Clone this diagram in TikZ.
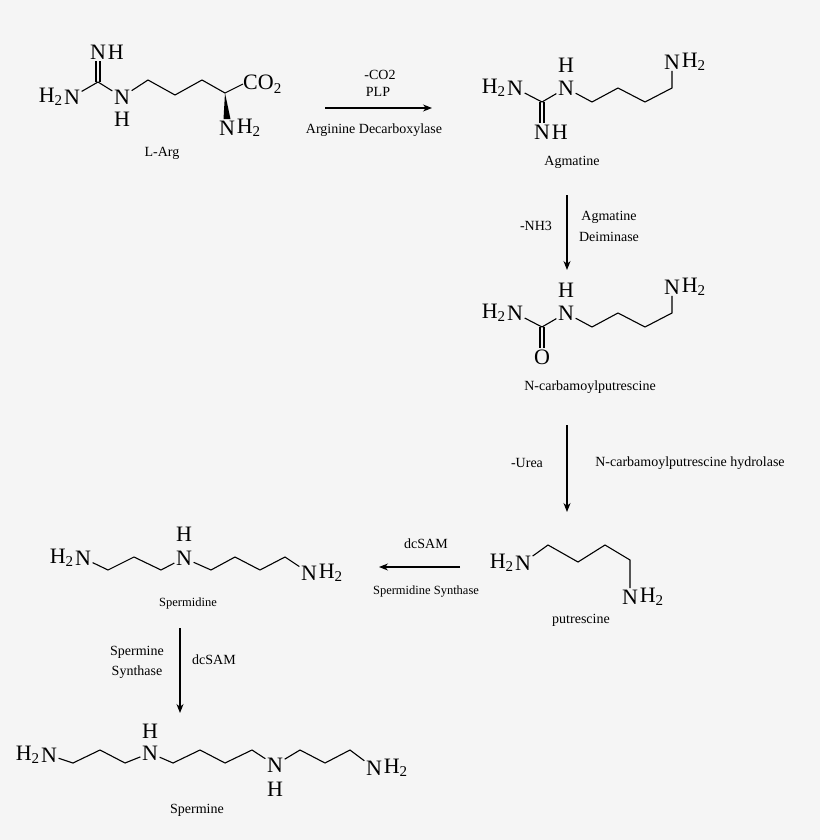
\documentclass[tikz,border=0pt]{standalone}
\usepackage{fontspec}
\setmainfont{Liberation Serif}
\usetikzlibrary{arrows.meta}
\newcommand{\lsb}[1]{\raisebox{-0.35ex}{\fontsize{15}{15}\selectfont #1}}
\begin{document}
\begin{tikzpicture}[x=1pt,y=-1pt,
  atom/.style={font=\fontsize{22}{22}\selectfont, inner sep=1.5pt},
  hl/.style={font=\fontsize{22}{22}\selectfont, inner sep=0pt},
  lbl/.style={font=\fontsize{14}{14}\selectfont, inner sep=1pt},
  bond/.style={line width=1.1pt, line join=miter},
  rxn/.style={line width=1.1pt, -{Stealth[length=9pt,width=7pt]}}]
\fill[black!4] (0,0) rectangle (820,840);
\useasboundingbox (0,0) rectangle (820,840);
% ---------- L-Arg
\node[atom] (a1) at (72,97) {N};
\node[hl,anchor=east] (a1h) at (a1.west) {H\lsb{2}};
\coordinate (ac) at (98,82);
\node[atom] (a2) at (98,52) {N};
\node[hl,anchor=west] (a2h) at (a2.east) {H};
\node[atom] (a3) at (122,97) {N};
\node[hl] (a3h) at (122,119) {H};
\coordinate (av1) at (148,80);
\coordinate (av2) at (175,95);
\coordinate (av3) at (202,80);
\coordinate (aca) at (225,93);
\node[hl,anchor=west] (aco) at (243,84) {CO\lsb{2}};
\node[atom] (a4) at (227,128) {N};
\node[hl,anchor=west] (a4h) at (a4.east) {H\lsb{2}};
\draw[bond] (a1) -- (ac) -- (a3);
\draw[bond] ([xshift=-2pt]ac) -- ([xshift=-2pt]a2.south);
\draw[bond] ([xshift=2pt]ac) -- ([xshift=2pt]a2.south);
\draw[bond] (a3) -- (av1) -- (av2) -- (av3) -- (aca) -- (aco.west);
\fill (aca) -- ([xshift=-3.5pt]a4.north) -- ([xshift=3.5pt]a4.north) -- cycle;
\node[lbl] (larg) at (162,153) {L-Arg};
% arrow 1
\coordinate (r1s) at (325,108);
\coordinate (r1e) at (432,108);
\draw[rxn] (r1s) -- (r1e);
\node[lbl] at (380,75) {-CO2};
\node[lbl] at (378,92) {PLP};
\node[lbl] at (374,130) {Arginine Decarboxylase};
% ---------- Agmatine
\node[atom] (g1) at (515,88) {N};
\node[hl,anchor=east] (g1h) at (g1.west) {H\lsb{2}};
\coordinate (gc) at (542,102);
\node[atom] (g2) at (566,88) {N};
\node[hl] (g2h) at (566,65) {H};
\node[atom] (g3) at (542,132) {N};
\node[hl,anchor=west] (g3h) at (g3.east) {H};
\coordinate (gv1) at (592,102);
\coordinate (gv2) at (618,88);
\coordinate (gv3) at (645,102);
\coordinate (gv4) at (672,88);
\node[atom] (g4) at (672,62) {N};
\node[hl,anchor=west] (g4h) at (g4.east) {H\lsb{2}};
\draw[bond] (g1) -- (gc) -- (g2) -- (gv1) -- (gv2) -- (gv3) -- (gv4) -- (g4);
\draw[bond] ([xshift=-2pt]gc) -- ([xshift=-2pt]g3.north);
\draw[bond] ([xshift=2pt]gc) -- ([xshift=2pt]g3.north);
\node[lbl] at (572,162) {Agmatine};
% arrow 2
\coordinate (r2s) at (567,195);
\coordinate (r2e) at (567,270);
\draw[rxn] (r2s) -- (r2e);
\node[lbl] at (536,226) {-NH3};
\node[lbl] at (609,217) {Agmatine};
\node[lbl] at (609,237) {Deiminase};
% ---------- N-carbamoylputrescine
\node[atom] (k1) at (515,313) {N};
\node[hl,anchor=east] (k1h) at (k1.west) {H\lsb{2}};
\coordinate (kc) at (542,327);
\node[atom] (k2) at (566,313) {N};
\node[hl] (k2h) at (566,290) {H};
\node[atom] (k3) at (542,357) {O};
\coordinate (kv1) at (592,327);
\coordinate (kv2) at (618,313);
\coordinate (kv3) at (645,327);
\coordinate (kv4) at (672,313);
\node[atom] (k4) at (672,287) {N};
\node[hl,anchor=west] (k4h) at (k4.east) {H\lsb{2}};
\draw[bond] (k1) -- (kc) -- (k2) -- (kv1) -- (kv2) -- (kv3) -- (kv4) -- (k4);
\draw[bond] ([xshift=-2pt]kc) -- ([xshift=-2pt]k3.north);
\draw[bond] ([xshift=2pt]kc) -- ([xshift=2pt]k3.north);
\node[lbl] at (590,387) {N-carbamoylputrescine};
% arrow 3
\coordinate (r3s) at (567,425);
\coordinate (r3e) at (567,512);
\draw[rxn] (r3s) -- (r3e);
\node[lbl] at (527,463) {-Urea};
\node[lbl] at (690,463) {N-carbamoylputrescine hydrolase};
% ---------- putrescine
\node[atom] (p1) at (523,563) {N};
\node[hl,anchor=east] (p1h) at (p1.west) {H\lsb{2}};
\coordinate (pv1) at (548,545);
\coordinate (pv2) at (578,562);
\coordinate (pv3) at (605,545);
\coordinate (pv4) at (630,560);
\node[atom] (p2) at (630,597) {N};
\node[hl,anchor=west] (p2h) at (p2.east) {H\lsb{2}};
\draw[bond] (p1) -- (pv1) -- (pv2) -- (pv3) -- (pv4) -- (p2);
\node[lbl] at (581,620) {putrescine};
% arrow 4
\coordinate (r4s) at (460,567);
\coordinate (r4e) at (379,567);
\draw[rxn] (r4s) -- (r4e);
\node[lbl] at (426,544) {dcSAM};
\node[lbl,font=\fontsize{12.5}{12.5}\selectfont] at (426,592) {Spermidine Synthase};
% ---------- Spermidine
\node[atom] (s1) at (83,558) {N};
\node[hl,anchor=east] (s1h) at (s1.west) {H\lsb{2}};
\coordinate (sv1) at (108,570);
\coordinate (sv2) at (134,557);
\coordinate (sv3) at (161,570);
\node[atom] (s2) at (184,558) {N};
\node[hl] (s2h) at (184,534) {H};
\coordinate (sv4) at (211,570);
\coordinate (sv5) at (235,557);
\coordinate (sv6) at (260,570);
\coordinate (sv7) at (285,557);
\node[atom] (s3) at (309,573) {N};
\node[hl,anchor=west] (s3h) at (s3.east) {H\lsb{2}};
\draw[bond] (s1) -- (sv1) -- (sv2) -- (sv3) -- (s2) -- (sv4) -- (sv5) -- (sv6) -- (sv7) -- (s3);
\node[lbl,font=\fontsize{12.5}{12.5}\selectfont] at (188,603) {Spermidine};
% arrow 5
\coordinate (r5s) at (180,628);
\coordinate (r5e) at (180,713);
\draw[rxn] (r5s) -- (r5e);
\node[lbl] at (137,652) {Spermine};
\node[lbl] at (137,672) {Synthase};
\node[lbl] at (214,660) {dcSAM};
% ---------- Spermine
\node[atom] (m1) at (49,755) {N};
\node[hl,anchor=east] (m1h) at (m1.west) {H\lsb{2}};
\coordinate (mv1) at (73,763);
\coordinate (mv2) at (100,750);
\coordinate (mv3) at (125,763);
\node[atom] (m2) at (150,753) {N};
\node[hl] (m2h) at (150,731) {H};
\coordinate (mv4) at (173,763);
\coordinate (mv5) at (200,750);
\coordinate (mv6) at (225,763);
\coordinate (mv7) at (252,750);
\node[atom] (m3) at (275,765) {N};
\node[hl] (m3h) at (275,789) {H};
\coordinate (mv8) at (300,750);
\coordinate (mv9) at (325,763);
\coordinate (mv10) at (350,750);
\node[atom] (m4) at (374,768) {N};
\node[hl,anchor=west] (m4h) at (m4.east) {H\lsb{2}};
\draw[bond] (m1) -- (mv1) -- (mv2) -- (mv3) -- (m2) -- (mv4) -- (mv5) -- (mv6) -- (mv7) -- (m3) -- (mv8) -- (mv9) -- (mv10) -- (m4);
\node[lbl] at (197,810) {Spermine};
\end{tikzpicture}
\end{document}
